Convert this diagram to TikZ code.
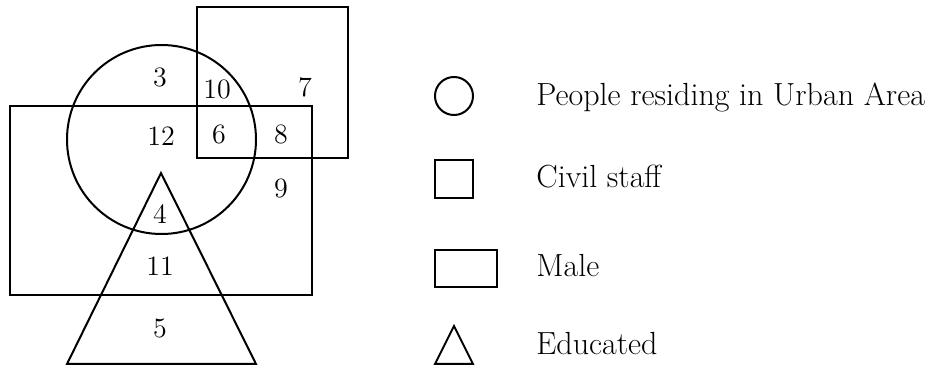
\documentclass[tikz,border=0pt]{standalone}
\usepackage{tikz}
\usetikzlibrary{calc}
\tikzset{ region_num/.style = {anchor=base, inner sep=0pt, font=\fontsize{14}{16}\selectfont} }
\tikzset{ legend_text/.style = {anchor=base west, inner sep=0pt, font=\fontsize{16}{19}\selectfont} }
\tikzset{ set_line/.style = {line width=1pt, line join=miter} }

\begin{document}
\begin{tikzpicture}[x=0.5pt, y=-0.5pt]
            \useasboundingbox (0,0) rectangle (934,369);
            % sets
            \draw[set_line] (161.5,139.5) circle[radius=94.5];
            \draw[set_line] (197,7) rectangle (348,158);
            \draw[set_line] (10,106) rectangle (312,295);
            \draw[set_line] (161,173) -- (256,364) -- (67,364) -- cycle;
            % region counts
            \node[region_num] (n3) at (160,87) {3};
            \node[region_num] (n10) at (217,99) {10};
            \node[region_num] (n7) at (305,97) {7};
            \node[region_num] (n12) at (161,146) {12};
            \node[region_num] (n6) at (219,144) {6};
            \node[region_num] (n8) at (281,144) {8};
            \node[region_num] (n9) at (281,198) {9};
            \node[region_num] (n4) at (160,224) {4};
            \node[region_num] (n11) at (160,276) {11};
            \node[region_num] (n5) at (160,338) {5};
            % legend
            \draw[set_line] (454,96) circle[radius=19];
            \draw[set_line] (435,160) rectangle (473,198);
            \draw[set_line] (435,250) rectangle (497,287);
            \draw[set_line] (454,326) -- (473,364) -- (435,364) -- cycle;
            \node[legend_text] (urban) at (536,106) {People residing in Urban Area};
            \node[legend_text] (civil) at (536,188) {Civil staff};
            \node[legend_text] (male) at (536,277) {Male};
            \node[legend_text] (educ) at (536,355) {Educated};
        \end{tikzpicture}
\end{document}
